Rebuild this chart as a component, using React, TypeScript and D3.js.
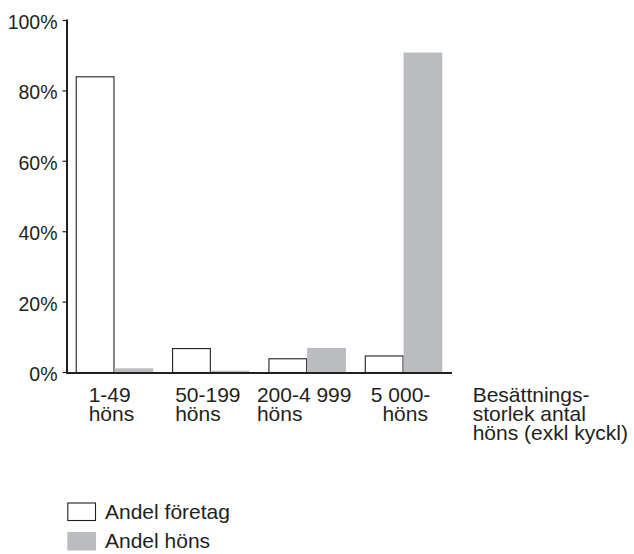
import React, { useEffect, useRef } from "react";
import * as d3 from "d3";

const categories = ["1-49 höns", "50-199 höns", "200-4 999 höns", "5 000- höns"];
const categoryLines = [["1-49", "höns"], ["50-199", "höns"], ["200-4 999", "höns"], ["5 000-", "  höns"]];
const andelForetag = [84, 6.8, 3.9, 4.7];
const andelHons = [1.2, 0.5, 7.0, 90.9];
const seriesNames = ["Andel företag", "Andel höns"];
const yTicks = [0, 20, 40, 60, 80, 100];
const axisTitle = ["Besättnings-", "storlek antal", "höns (exkl kyckl)"];

const W = 634;
const H = 554;
const FONT = "'Liberation Sans', Arial, Helvetica, sans-serif";
const GRAY = "#bbbcc0";
const INK = "#231f20";

export default function App() {
  const ref = useRef<SVGSVGElement | null>(null);

  useEffect(() => {
    const svg = d3.select(ref.current);
    svg.selectAll("*").remove();

    const x0 = 66, x1 = 452, yBase = 372.5, yTop = 20.5;
    const x = d3.scaleBand<string>().domain(categories).range([x0, x1]).paddingInner(0.196).paddingOuter(0.101);
    const xi = d3.scaleBand<string>().domain(seriesNames).range([0, x.bandwidth()]).padding(0);
    const y = d3.scaleLinear().domain([0, 100]).range([yBase, yTop]);

    const rows = categories.map((c, i) => ({ c, vals: [andelForetag[i], andelHons[i]] }));

    const g = svg.append("g");
    // bars
    rows.forEach((r) => {
      r.vals.forEach((v, j) => {
        const bx = (x(r.c) as number) + (xi(seriesNames[j]) as number);
        if (j === 0) {
          g.append("rect")
            .attr("x", bx + 0.5)
            .attr("y", y(v))
            .attr("width", xi.bandwidth() - 1)
            .attr("height", yBase - y(v))
            .attr("fill", "#fff")
            .attr("stroke", INK)
            .attr("stroke-width", 1.1);
        } else {
          g.append("rect")
            .attr("x", bx)
            .attr("y", y(v))
            .attr("width", xi.bandwidth())
            .attr("height", yBase - y(v))
            .attr("fill", GRAY);
        }
      });
    });

    // axes
    g.append("line").attr("x1", 67).attr("x2", 67).attr("y1", yTop - 1).attr("y2", yBase + 1.5)
      .attr("stroke", INK).attr("stroke-width", 2);
    g.append("line").attr("x1", 66).attr("x2", x1).attr("y1", yBase + 0.5).attr("y2", yBase + 0.5)
      .attr("stroke", INK).attr("stroke-width", 2.2);

    yTicks.forEach((t) => {
      g.append("line").attr("x1", 62.5).attr("x2", 67).attr("y1", y(t)).attr("y2", y(t))
        .attr("stroke", INK).attr("stroke-width", 1.2);
      g.append("text").attr("x", 57.5).attr("y", y(t) + 8.5)
        .attr("text-anchor", "end").attr("font-family", FONT).attr("font-size", 19.5)
        .attr("fill", INK).text(`${t}%`);
    });

    // category labels
    categories.forEach((c, i) => {
      const t = g.append("text").attr("font-family", FONT).attr("font-size", 21).attr("fill", INK)
        .style("white-space", "pre");
      categoryLines[i].forEach((ln, k) => {
        t.append("tspan").attr("x", 0).attr("y", 402 + k * 19).text(ln);
      });
      const w = (t.node() as SVGTextElement).getBBox().width;
      const cx = (x(c) as number) + x.bandwidth() / 2;
      t.attr("transform", `translate(${cx - w / 2 - 3},0)`);
    });

    // axis title
    const at = g.append("text").attr("font-family", FONT).attr("font-size", 21).attr("fill", INK);
    axisTitle.forEach((ln, k) => {
      at.append("tspan").attr("x", 472.7).attr("y", 402 + k * 19).text(ln);
    });

    // legend
    seriesNames.forEach((s, j) => {
      const ly = 502.5 + j * 29.5;
      g.append("rect").attr("x", j === 0 ? 67.8 : 67.3).attr("y", j === 0 ? ly + 0.5 : ly)
        .attr("width", j === 0 ? 27.7 : 28.7).attr("height", j === 0 ? 17.5 : 18.5)
        .attr("fill", j === 0 ? "#fff" : GRAY)
        .attr("stroke", j === 0 ? INK : "none").attr("stroke-width", 1.1);
      g.append("text").attr("x", 105).attr("y", ly + 16.2).attr("font-family", FONT)
        .attr("font-size", 21).attr("fill", INK).text(s);
    });
  }, []);

  return (
    <svg ref={ref} width={W} height={H} style={{ position: "absolute", left: 0, top: 0, background: "#fff" }} />
  );
}
